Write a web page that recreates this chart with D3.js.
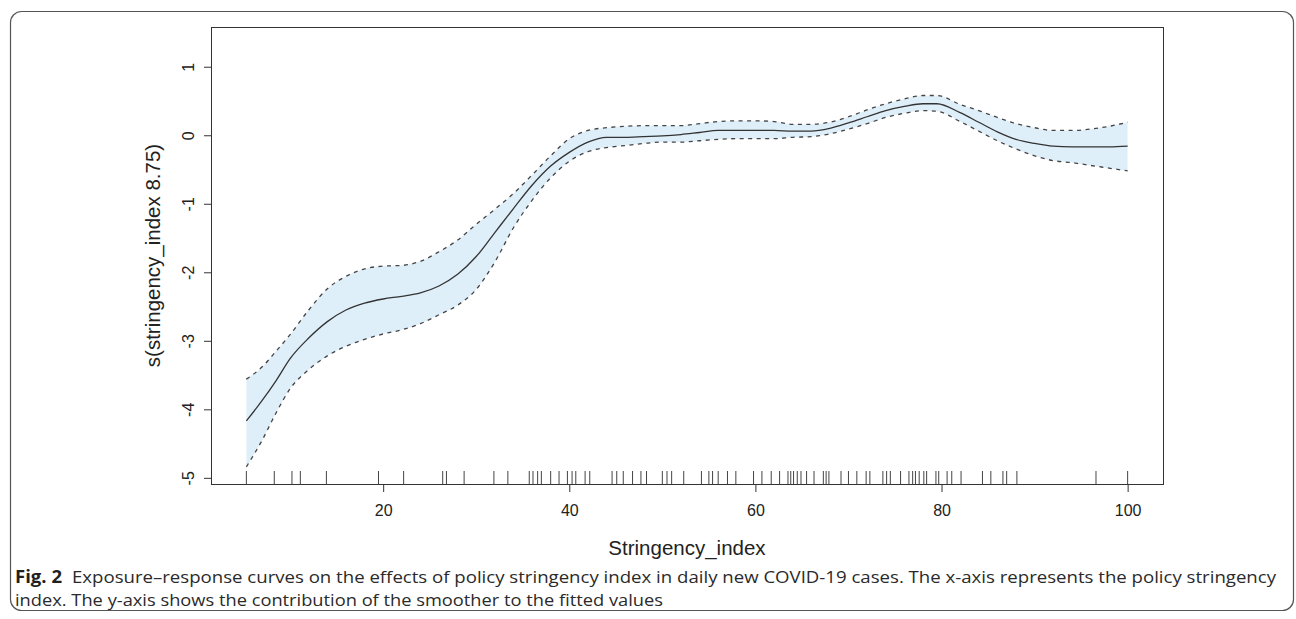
<!DOCTYPE html>
<html>
<head>
<meta charset="utf-8">
<script src="https://cdn.jsdelivr.net/npm/d3@7"></script>
<style>
    body { margin: 0; background: #fff; }
    svg { display: block; }
</style>
</head>
<body>
<script>
"use strict";

// stringency index grid and the smooth with its confidence band
const stringency = [5.3, 7, 8.5, 10, 12, 14, 16, 18, 20, 22, 24, 26, 28, 30, 32, 34, 36, 38, 40, 42, 44, 46, 48, 50,
    52, 54, 56, 58, 60, 62, 64, 66, 68, 70, 72, 74, 76, 78, 79.5, 82, 84, 86, 88, 90, 92, 94, 96, 98, 100]
const fit = [-4.17, -3.87, -3.58, -3.26, -2.96, -2.72, -2.55, -2.45, -2.39, -2.35, -2.30, -2.20, -2.03, -1.77, -1.42, -1.07,
    -0.73, -0.45, -0.25, -0.10, -0.03, -0.03, -0.02, -0.01, 0.01, 0.04, 0.07, 0.07, 0.07, 0.07, 0.06, 0.06, 0.10, 0.18,
    0.27, 0.36, 0.42, 0.46, 0.46, 0.33, 0.19, 0.05, -0.06, -0.12, -0.16, -0.17, -0.17, -0.17, -0.16]
const upper = [-3.56, -3.38, -3.15, -2.91, -2.55, -2.24, -2.06, -1.95, -1.91, -1.90, -1.84, -1.70, -1.53, -1.30, -1.08, -0.85,
    -0.58, -0.30, -0.05, 0.07, 0.11, 0.13, 0.14, 0.14, 0.14, 0.17, 0.20, 0.21, 0.21, 0.20, 0.16, 0.16, 0.19, 0.27,
    0.37, 0.46, 0.53, 0.58, 0.58, 0.45, 0.36, 0.26, 0.17, 0.11, 0.07, 0.07, 0.09, 0.13, 0.19]
const lower = [-4.84, -4.45, -4.05, -3.70, -3.42, -3.22, -3.08, -2.98, -2.90, -2.84, -2.75, -2.62, -2.48, -2.25, -1.85, -1.35,
    -0.95, -0.62, -0.38, -0.24, -0.18, -0.15, -0.12, -0.10, -0.10, -0.08, -0.06, -0.05, -0.05, -0.05, -0.03, -0.02, 0.02, 0.09,
    0.17, 0.26, 0.32, 0.36, 0.35, 0.20, 0.06, -0.08, -0.20, -0.30, -0.37, -0.40, -0.44, -0.48, -0.52]

// observed stringency values (rug)
const rug = [5.3, 8.3, 10.2, 11.1, 13.9, 19.5, 22.2, 26.4, 26.8, 28.7, 31.9, 33.4, 35.7, 36.1, 36.6, 37.0, 38.0, 38.9,
    39.8, 40.3, 40.7, 41.7, 42.2, 44.6, 45.1, 45.8, 46.8, 47.7, 48.3, 50.0, 50.5, 51.0, 52.3, 54.2, 55.0, 55.4, 56.0,
    57.0, 57.9, 59.8, 60.7, 61.7, 62.6, 63.5, 63.8, 64.1, 64.5, 64.9, 65.5, 66.3, 67.3, 67.6, 67.9, 69.2, 70.0, 70.9,
    71.9, 72.3, 73.7, 74.1, 74.5, 75.6, 76.5, 76.9, 77.2, 77.6, 78.1, 78.4, 79.4, 79.7, 80.6, 81.1, 82.1, 84.4, 85.3,
    86.6, 87.0, 88.1, 96.6, 100]

const xTicks = [20, 40, 60, 80, 100]
const yTicks = [-5, -4, -3, -2, -1, 0, 1]

const xLabel = "Stringency_index"
const yLabel = "s(stringency_index 8.75)"
const captionBold = "Fig. 2"
const captionLine1 = "Exposure\u2013response curves on the effects of policy stringency index in daily new COVID-19 cases. The x-axis represents the policy stringency"
const captionLine2 = "index. The y-axis shows the contribution of the smoother to the fitted values"

const measurements = {
    width: 1296,
    height: 619,
    left: 211,
    right: 1163,
    top: 27,
    bottom: 484
}

const axisFont = "'Liberation Sans', Arial, sans-serif"

let svg = null

function drawFrame() {
    svg.append("rect")
        .attr("x", 10.5).attr("y", 11.5)
        .attr("width", 1283).attr("height", 599)
        .attr("rx", 11).attr("ry", 11)
        .attr("fill", "none")
        .attr("stroke", "#555")
        .attr("stroke-width", 1.2)
}

function drawAxes(scaleX, scaleY) {
    const m = measurements
    // x axis: ticks down, labels a line below (R style)
    const xAxis = d3.axisBottom(scaleX).tickValues(xTicks).tickSize(8).tickPadding(13)
    const gx = svg.append("g")
        .attr("transform", "translate(0," + m.bottom + ")")
        .call(xAxis)
    gx.select(".domain").remove()
    gx.selectAll("line").attr("stroke", "#333")
    gx.selectAll("text")
        .attr("fill", "#222")
        .style("font-family", axisFont)
        .style("font-size", "16px")

    // y axis: labels rotated like R's default, plain hyphen minus
    const yAxis = d3.axisLeft(scaleY).tickValues(yTicks).tickSize(7).tickFormat(d => String(d))
    const gy = svg.append("g")
        .attr("transform", "translate(" + m.left + ",0)")
        .call(yAxis)
    gy.select(".domain").remove()
    gy.selectAll("line").attr("stroke", "#333")
    gy.selectAll("text")
        .attr("fill", "#222")
        .attr("x", null)
        .attr("text-anchor", "middle")
        .attr("transform", "translate(-23,0) rotate(-90)")
        .attr("y", 0)
        .attr("dy", "0.35em")
        .style("font-family", axisFont)
        .style("font-size", "16px")

    // box
    svg.append("rect")
        .attr("x", m.left + 0.5).attr("y", m.top + 0.5)
        .attr("width", m.right - m.left).attr("height", m.bottom - m.top)
        .attr("fill", "none")
        .attr("stroke", "#333")
        .attr("stroke-width", 1)
}

function plotData(scaleX, scaleY) {
    const rows = stringency.map((x, i) => ({x: x, fit: fit[i], up: upper[i], lo: lower[i]}))

    const band = d3.area()
        .x(d => scaleX(d.x))
        .y0(d => scaleY(d.lo))
        .y1(d => scaleY(d.up))
        .curve(d3.curveMonotoneX)

    svg.append("path")
        .datum(rows)
        .attr("d", band)
        .attr("fill", "#dfeffa")

    const lineOf = key => d3.line()
        .x(d => scaleX(d.x))
        .y(d => scaleY(d[key]))
        .curve(d3.curveMonotoneX)

    ;["up", "lo"].forEach(k => {
        svg.append("path")
            .datum(rows)
            .attr("d", lineOf(k))
            .attr("fill", "none")
            .attr("stroke", "#444")
            .attr("stroke-width", 1.3)
            .attr("stroke-dasharray", "4,4.5")
    })

    svg.append("path")
        .datum(rows)
        .attr("d", lineOf("fit"))
        .attr("fill", "none")
        .attr("stroke", "#333")
        .attr("stroke-width", 1.3)

    // rug along the bottom
    svg.selectAll(".rug")
        .data(rug)
        .enter()
        .append("line")
            .attr("class", "rug")
            .attr("x1", d => scaleX(d)).attr("x2", d => scaleX(d))
            .attr("y1", measurements.bottom).attr("y2", measurements.bottom - 13)
            .attr("stroke", "#444")
            .attr("stroke-width", 1)
}

function makeLabels() {
    const m = measurements
    svg.append("text")
        .attr("x", (m.left + m.right) / 2)
        .attr("y", 555)
        .attr("text-anchor", "middle")
        .attr("fill", "#222")
        .style("font-family", axisFont)
        .style("font-size", "20.5px")
        .text(xLabel)

    svg.append("text")
        .attr("transform", "translate(160," + ((m.top + m.bottom) / 2) + ") rotate(-90)")
        .attr("text-anchor", "middle")
        .attr("fill", "#222")
        .style("font-family", axisFont)
        .style("font-size", "20.5px")
        .text(yLabel)
}

function makeCaption() {
    const font = "'Open Sans', 'Noto Sans', sans-serif"
    svg.append("text")
        .attr("x", 15).attr("y", 583)
        .attr("fill", "#1f1f1f")
        .style("font-family", font)
        .style("font-size", "17px")
        .style("font-weight", "bold")
        .attr("textLength", 47)
        .attr("lengthAdjust", "spacingAndGlyphs")
        .text(captionBold)

    svg.append("text")
        .attr("x", 72).attr("y", 583)
        .attr("fill", "#2a2a2a")
        .style("font-family", font)
        .style("font-size", "17px")
        .attr("textLength", 1204)
        .attr("lengthAdjust", "spacingAndGlyphs")
        .text(captionLine1)

    svg.append("text")
        .attr("x", 15).attr("y", 606)
        .attr("fill", "#2a2a2a")
        .style("font-family", font)
        .style("font-size", "17px")
        .attr("textLength", 648)
        .attr("lengthAdjust", "spacingAndGlyphs")
        .text(captionLine2)
}

window.onload = function() {
    const m = measurements
    svg = d3.select("body").append("svg")
        .attr("width", m.width)
        .attr("height", m.height)

    const scaleX = d3.scaleLinear()
        .domain([1.5, 103.8])
        .range([m.left, m.right])

    const scaleY = d3.scaleLinear()
        .domain([-5.09, 1.58])
        .range([m.bottom, m.top])

    drawFrame()
    plotData(scaleX, scaleY)
    drawAxes(scaleX, scaleY)
    makeLabels()
    makeCaption()
}
</script>
</body>
</html>
